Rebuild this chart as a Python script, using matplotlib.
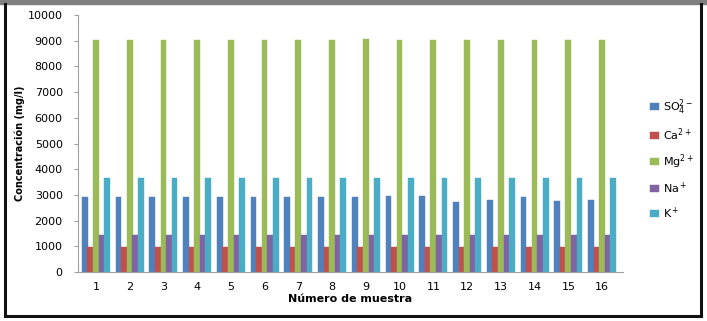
import numpy as np
import matplotlib.pyplot as plt
from matplotlib.patches import Rectangle

# muestras
muestras = [str(i) for i in range(1, 17)]

# concentraciones (mg/l)
so4 = [2920, 2920, 2930, 2920, 2920, 2920, 2930, 2920, 2920, 2970, 2950, 2720, 2800, 2920, 2780, 2800]
ca = [990, 990, 990, 990, 990, 990, 990, 990, 990, 990, 990, 990, 990, 990, 990, 990]
mg = [9030, 9040, 9040, 9040, 9040, 9040, 9030, 9030, 9050, 9030, 9030, 9030, 9030, 9030, 9040, 9030]
na = [1430, 1430, 1430, 1430, 1430, 1430, 1430, 1430, 1430, 1430, 1430, 1430, 1430, 1430, 1430, 1430]
k = [3650, 3650, 3650, 3650, 3650, 3650, 3650, 3640, 3650, 3650, 3650, 3650, 3650, 3650, 3640, 3640]

series = [so4, ca, mg, na, k]
etiquetas = [r'SO$_4^{2-}$', r'Ca$^{2+}$', r'Mg$^{2+}$', r'Na$^+$', r'K$^+$']
colores = ['#4F81BD', '#C0504D', '#9BBB59', '#8064A2', '#4BACC6']

fig = plt.figure(figsize=(7.07, 3.21), dpi=100)
ax = fig.add_axes([78 / 707, 1 - 272 / 321, (623 - 78) / 707, (272 - 15) / 321])

x = np.arange(1, 17)
ancho = 0.17
for i, (vals, lab, col) in enumerate(zip(series, etiquetas, colores)):
    ax.bar(x + (i - 2) * 0.165, vals, ancho, color=col, label=lab,
           edgecolor=col, linewidth=0.3)

ax.set_xlim(0.47, 16.62)
ax.set_ylim(0, 10000)
ax.set_yticks(range(0, 10001, 1000))
ax.set_xticks(x)
ax.set_xticklabels(muestras)
ax.tick_params(axis='y', labelsize=8, length=3, color='#A0A0A0', pad=8)
ax.tick_params(axis='x', labelsize=8, length=0, pad=7)
for s in ['top', 'right']:
    ax.spines[s].set_visible(False)
ax.spines['left'].set_color('#A0A0A0')
ax.spines['bottom'].set_color('#A0A0A0')

ax.set_ylabel('Concentración (mg/l)', fontsize=7, fontweight='bold', labelpad=2)
ax.set_xlabel('Número de muestra', fontsize=8, fontweight='bold', labelpad=2)

ax.legend(loc='center left', bbox_to_anchor=(640 / 707, 1 - 159 / 321), bbox_transform=fig.transFigure,
          frameon=False, fontsize=8, handlelength=0.8, handleheight=0.6,
          labelspacing=0.85, handletextpad=0.4)

# marco
fig.patches.append(Rectangle((0, 1 - 4 / 321), 1, 4 / 321, transform=fig.transFigure,
                             color='#7F7F7F', zorder=0))
fig.add_artist(plt.Line2D([5 / 707, 5 / 707], [1 - 316 / 321, 1 - 4 / 321],
                          transform=fig.transFigure, color='#111111', lw=2.2))
fig.add_artist(plt.Line2D([701 / 707, 701 / 707], [1 - 316 / 321, 1 - 4 / 321],
                          transform=fig.transFigure, color='#111111', lw=2.2))
fig.add_artist(plt.Line2D([5 / 707, 701 / 707], [1 - 316 / 321, 1 - 316 / 321],
                          transform=fig.transFigure, color='#111111', lw=2.2))

fig.savefig('out.png', dpi=100)
